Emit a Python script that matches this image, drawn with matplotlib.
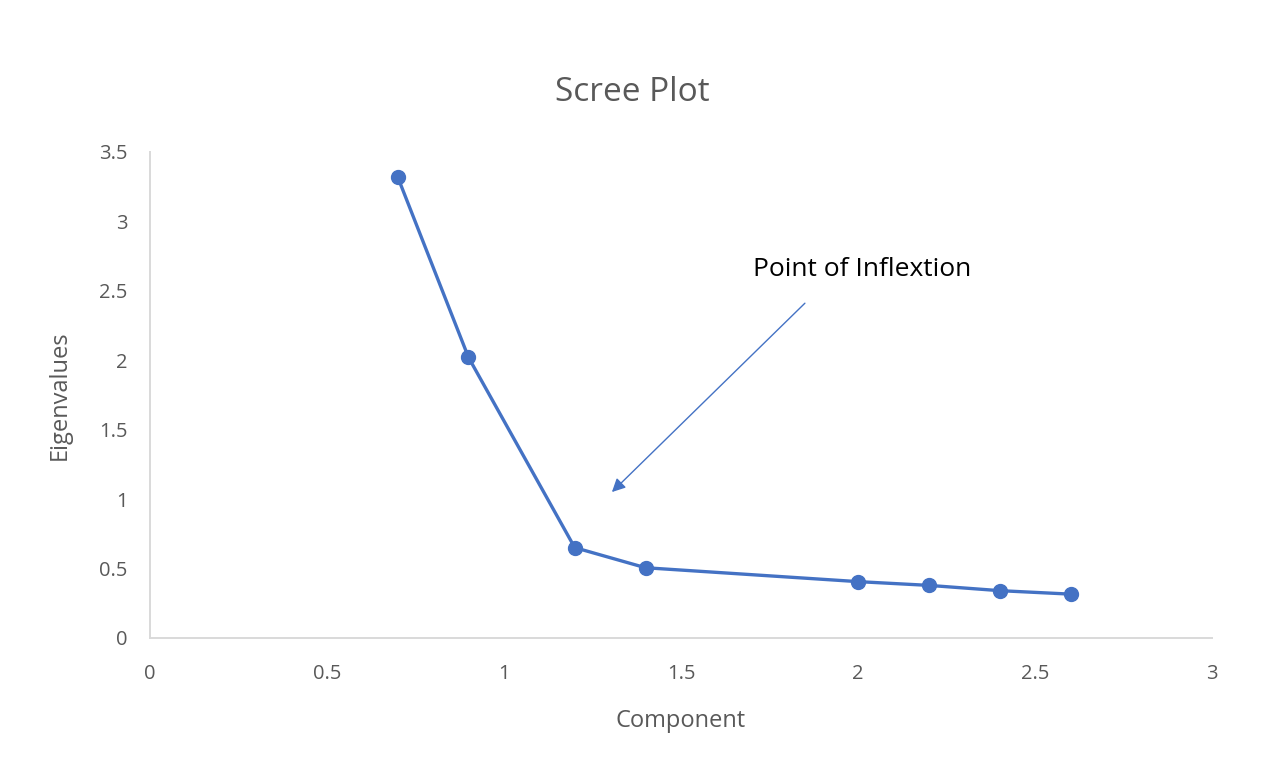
import numpy as np
import matplotlib.pyplot as plt

plt.rcParams['font.family'] = ['Open Sans', 'DejaVu Sans']

component = [0.7, 0.9, 1.2, 1.4, 2.0, 2.2, 2.4, 2.6]
eigenvalues = [3.32, 2.02, 0.65, 0.505, 0.405, 0.378, 0.34, 0.315]

blue = '#4472C4'
grey = '#595959'

fig = plt.figure(figsize=(12.8, 7.63), dpi=100)
ax = fig.add_axes([0.117, 0.164, 0.83, 0.637])

ax.plot(component, eigenvalues, color=blue, linewidth=2.4, marker='o',
        markersize=10, markerfacecolor=blue, markeredgecolor=blue)

ax.set_xlim(0, 3)
ax.set_ylim(0, 3.5)
ax.set_xticks(np.arange(0, 3.01, 0.5))
ax.set_yticks(np.arange(0, 3.51, 0.5))
ax.set_xticklabels(['0', '0.5', '1', '1.5', '2', '2.5', '3'])
ax.set_yticklabels(['0', '0.5', '1', '1.5', '2', '2.5', '3', '3.5'])
ax.tick_params(length=0, labelsize=14.5, colors=grey)
ax.tick_params(axis='x', pad=19)
ax.tick_params(axis='y', pad=16)

for s in ['top', 'right']:
    ax.spines[s].set_visible(False)
for s in ['left', 'bottom']:
    ax.spines[s].set_color('#d9d9d9')
    ax.spines[s].set_linewidth(1.4)

ax.set_xlabel('Component', fontsize=17, color=grey, labelpad=18)
ax.set_ylabel('Eigenvalues', fontsize=17, color=grey, labelpad=20)
fig.text(0.494, 0.879, 'Scree Plot', fontsize=24, color=grey,
         ha='center', va='center')

ax.annotate('', xy=(1.305, 1.05), xytext=(1.85, 2.41),
            arrowprops=dict(arrowstyle='-|>', color=blue, lw=1.0,
                            mutation_scale=20, shrinkA=0, shrinkB=0))
ax.text(1.703, 2.65, 'Point of Inflextion', fontsize=19, color='black',
        ha='left', va='center')

fig.savefig('out.png', dpi=100)
